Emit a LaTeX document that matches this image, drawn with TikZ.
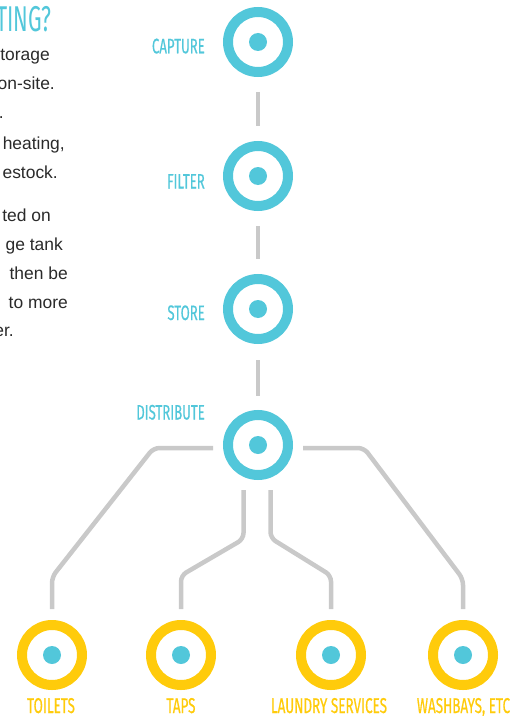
\documentclass[tikz,border=0pt]{standalone}
\usepackage{fontspec}
\setmainfont{Liberation Sans}
\newfontfamily\condfont[FakeStretch=0.63, FakeBold=0.5]{Fira Sans}
\newfontfamily\headfont[FakeStretch=0.6]{Fira Sans}
\usetikzlibrary{calc}
\definecolor{cyanring}{HTML}{52C7DA}
\definecolor{goldring}{HTML}{FFCB0B}
\definecolor{pipe}{HTML}{C9C9C9}
\definecolor{bodytext}{HTML}{2A2A2A}
\tikzset{
  ring/.style={circle, draw=#1, line width=10bp, minimum size=60bp, inner sep=0pt},
  pipeline/.style={draw=pipe, line width=4.5bp, rounded corners=6bp},
  steplabel/.style={font=\condfont\fontsize{21}{21}\selectfont, text=cyanring, inner sep=0pt, anchor=base east},
  uselabel/.style={font=\condfont\fontsize{21.5}{21.5}\selectfont, text=goldring, inner sep=0pt, anchor=base},
  bodyline/.style={font=\fontsize{17.5}{17.5}\selectfont, text=bodytext, inner sep=0pt, anchor=base east},
}
\begin{document}
\begin{tikzpicture}[x=1bp, y=-1bp]
\useasboundingbox (0,0) rectangle (526,716);
\clip (0,0) rectangle (526,716);

% heading and explanatory text at the left edge
\node[font=\headfont\fontsize{36}{36}\selectfont, text=cyanring, inner sep=0pt, anchor=base east] (title) at (52,31.7) {TING?};
\node[bodyline] (t1) at (50,61) {torage};
\node[bodyline] (t2) at (55,89.5) {on-site.};
\node[bodyline] (t3) at (4,118.5) {.};
\node[bodyline] (t4) at (65,149) {heating,};
\node[bodyline] (t5) at (58,178) {estock.};
\node[bodyline] (t6) at (51,221) {ted on};
\node[bodyline] (t7) at (63,250) {ge tank};
\node[bodyline] (t8) at (68,279) {then be};
\node[bodyline] (t9) at (68,308) {to more};
\node[bodyline] (t10) at (14,336) {er.};

% main chain of steps
\node[ring=cyanring] (capture) at (258,42) {};
\node[ring=cyanring] (filter) at (258,176) {};
\node[ring=cyanring] (store) at (258,309) {};
\node[ring=cyanring] (distribute) at (258,445) {};
\foreach \n in {capture,filter,store,distribute}
  \fill[cyanring] (\n.center) circle (9bp);

\node[steplabel] (capture-lab) at (205,53.3) {CAPTURE};
\node[steplabel] (filter-lab) at (205,188.5) {FILTER};
\node[steplabel] (store-lab) at (205,320) {STORE};
\node[steplabel] (distribute-lab) at (205,419.5) {DISTRIBUTE};

\draw[pipeline, shorten <=15bp, shorten >=15bp] (capture) -- (filter);
\draw[pipeline, shorten <=15bp, shorten >=15bp] (filter) -- (store);
\draw[pipeline, shorten <=16bp, shorten >=14bp] (store) -- (distribute);

% end uses
\node[ring=goldring] (toilets) at (52,655) {};
\node[ring=goldring] (taps) at (181,655) {};
\node[ring=goldring] (laundry) at (331,655) {};
\node[ring=goldring] (washbays) at (463,655) {};
\foreach \n in {toilets,taps,laundry,washbays}
  \fill[cyanring] (\n.center) circle (9bp);

\node[uselabel] (toilets-lab) at (51,713) {TOILETS};
\node[uselabel] (taps-lab) at (181,713) {TAPS};
\node[uselabel] (laundry-lab) at (329,713) {LAUNDRY SERVICES};
\node[uselabel] (washbays-lab) at (463.5,713) {WASHBAYS, ETC};

% distribution pipes
\draw[pipeline, shorten >=11bp]
  ($(distribute.center)+(-45,3)$) -- (153.5,448) -- (toilets |- 0,577) -- (toilets);
\draw[pipeline, shorten >=11bp]
  ($(distribute.center)+(-14.5,45)$) -- ($(distribute.center)+(-14.5,94)$) -- (taps |- 0,575.5) -- (taps);
\draw[pipeline, shorten >=11bp]
  ($(distribute.center)+(12.5,45)$) -- ($(distribute.center)+(12.5,93)$) -- (laundry |- 0,575.5) -- (laundry);
\draw[pipeline, shorten >=11bp]
  ($(distribute.center)+(45,3)$) -- (364,448) -- (washbays |- 0,579) -- (washbays);
\end{tikzpicture}
\end{document}
